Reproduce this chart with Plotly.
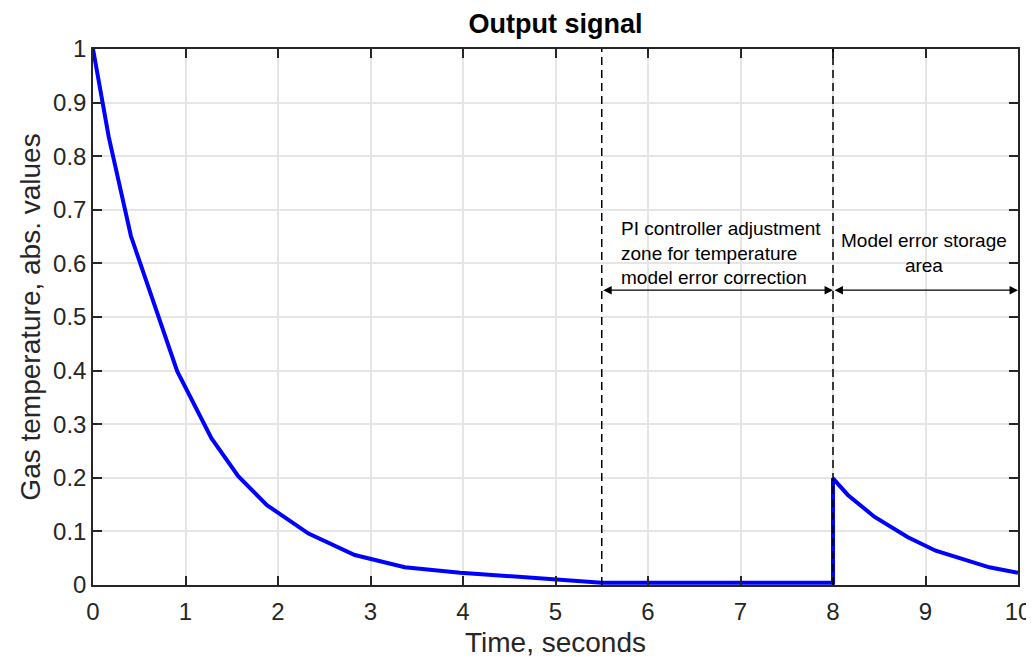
import plotly.graph_objects as go

# Data
time_s = [0.0, 0.17, 0.41, 0.91, 1.28, 1.57, 1.88, 2.33, 2.83, 3.37, 3.97, 4.97,
          5.41, 5.5, 8.0, 8.0, 8.16, 8.45, 8.81, 9.11, 9.69, 10.0]
gas_temp = [1.0, 0.836, 0.651, 0.399, 0.274, 0.203, 0.149, 0.096, 0.056, 0.033, 0.023, 0.011,
            0.006, 0.004, 0.004, 0.199, 0.168, 0.127, 0.089, 0.064, 0.033, 0.023]

x_ticks = list(range(0, 11))
y_ticks = [round(0.1 * i, 1) for i in range(0, 11)]
y_tick_labels = ["0", "0.1", "0.2", "0.3", "0.4", "0.5", "0.6", "0.7", "0.8", "0.9", "1"]

zone_bounds = [5.5, 8.0, 10.0]   # PI zone start, storage start, end
arrow_level = 0.55
zone1_text = "PI controller adjustment<br>zone for temperature<br>model error correction"
zone2_text = "Model error storage<br>area"

FONT = "Liberation Sans, Arial, Helvetica, sans-serif"
AX = "#262626"

fig = go.Figure()
fig.add_trace(go.Scatter(x=time_s, y=gas_temp, mode="lines",
                         line=dict(color="#0000ff", width=4), showlegend=False))

# dashed vertical zone lines
for xb in zone_bounds[:2]:
    fig.add_shape(type="line", xref="x", yref="y", x0=xb, x1=xb, y0=0, y1=1,
                  line=dict(color="black", width=1.5, dash="8px,5px"))

# double arrows
for a, b in [(zone_bounds[0], zone_bounds[1]), (zone_bounds[1], zone_bounds[2])]:
    fig.add_annotation(x=b, y=arrow_level, ax=a, ay=arrow_level, xref="x", yref="y",
                       axref="x", ayref="y", text="", showarrow=True,
                       arrowhead=2, startarrowhead=2, arrowside="end+start",
                       arrowsize=1.3, startarrowsize=1.3, arrowwidth=1.3, arrowcolor="black")

fig.add_annotation(x=5.69, y=0.62, xref="x", yref="y", text=zone1_text, showarrow=False,
                   xanchor="left", yanchor="middle", align="left",
                   font=dict(family=FONT, size=19, color="black"))
fig.add_annotation(x=8.98, y=0.62, xref="x", yref="y", text=zone2_text, showarrow=False,
                   xanchor="center", yanchor="middle", align="center",
                   font=dict(family=FONT, size=19, color="black"))

axis_common = dict(showline=True, linecolor=AX, linewidth=1.5, mirror="ticks",
                   ticks="inside", ticklen=9, tickwidth=1.5, tickcolor=AX,
                   showgrid=True, gridcolor="#e5e5e5", gridwidth=1.5, zeroline=False,
                   automargin=False,
                   tickfont=dict(family=FONT, size=24, color=AX))

fig.update_xaxes(range=[0, 10], tickmode="array", tickvals=x_ticks,
                 ticktext=[str(v) for v in x_ticks], ticklabelstandoff=4,
                 title=dict(text="Time, seconds", font=dict(family=FONT, size=28, color=AX),
                            standoff=9),
                 **axis_common)
fig.update_yaxes(range=[0, 1], tickmode="array", tickvals=y_ticks, ticktext=y_tick_labels,
                 title=dict(text="Gas temperature, abs. values",
                            font=dict(family=FONT, size=28, color=AX), standoff=4),
                 **axis_common)

# page body has an 8px margin, so the figure is 8px smaller and shifted
fig.update_layout(
    width=1026, height=654,
    margin=dict(l=85, r=16, t=41, b=77),
    paper_bgcolor="white", plot_bgcolor="white",
    title=dict(text="<b>Output signal</b>", xref="paper", x=0.5, xanchor="center",
               y=1 - 16 / 654, yanchor="middle",
               font=dict(family=FONT, size=27, color="black")),
)

fig.write_html("out.html")
